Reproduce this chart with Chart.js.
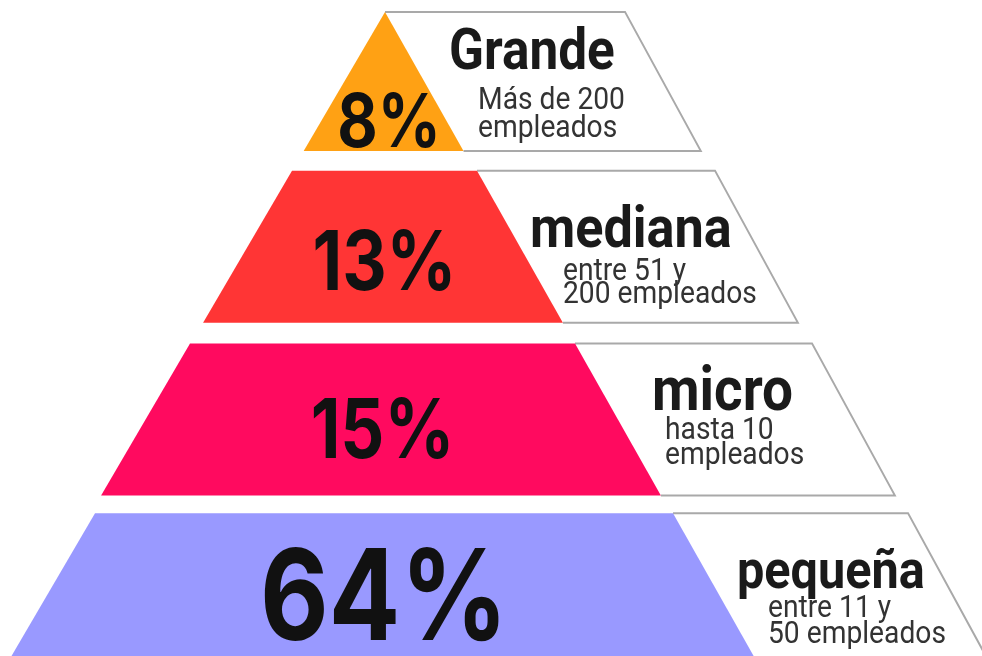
<!DOCTYPE html>
<html>
<head>
<meta charset="utf-8">
<script src="https://cdn.jsdelivr.net/npm/chart.js@4.4.1/dist/chart.umd.min.js"></script>
<style>
  html, body { margin: 0; padding: 0; background: #fff; overflow: hidden; }
  body { width: 982px; height: 656px; position: relative; }
  #pyramid { position: absolute; left: 0; top: -5px; }
</style>
</head>
<body>
<canvas id="pyramid" width="982" height="679"></canvas>
<script>
// data
const categories = ['Grande', 'mediana', 'micro', 'pequeña'];
const shares = [8, 13, 15, 64];
const descriptions = [
    ['Más de 200', 'empleados'],
    ['entre 51 y', '200 empleados'],
    ['hasta 10', 'empleados'],
    ['entre 11 y', '50 empleados']
];

// styles
const tierColors = ['#FFA114', '#FF3535', '#FF0A5F', '#9999FF'];
const borderGrey = '#a9a9a9';

// layout of the pyramid (x of the edges along each tier's top line)
const edgeLeft = [385, 292, 190, 95];
const edgeSplit = [385, 477, 575, 673];
const edgeRight = [625, 715, 812, 908];
const slantLeft = 0.585, slantSplit = 0.565, slantRight = 0.545;
const topAdjust = [8, -3, 0, 0];
const bottomAdjust = [-5, -3, 0, 0];
const pctSize = [74, 82, 82, 126];
const pctBaseline = [147, 290, 458, 640];
const titleSize = [57, 58, 61, 54];
const titleX = [449, 530, 652, 737];
const titleY = [69, 247, 410, 588];
const subX = [478, 563, 665, 768];
const subY = [109, 280, 439, 617];
const subLine = [28, 23, 25, 26];

const ctxEl = document.getElementById('pyramid');

function tierShape(el, i) {
    const top = el.y - el.height / 2 + topAdjust[i];
    const bottom = el.y + el.height / 2 + bottomAdjust[i];
    return { top, bottom, h: bottom - top };
}

function squeezedText(ctx, text, x, y, font, color, sx, align) {
    ctx.save();
    ctx.translate(x, y);
    ctx.scale(sx, 1);
    ctx.font = font;
    ctx.fillStyle = color;
    ctx.textAlign = align;
    ctx.textBaseline = 'alphabetic';
    ctx.fillText(text, 0, 0);
    ctx.restore();
}

const pyramidPlugin = {
    id: 'pyramid',
    beforeDatasetsDraw(chart) {
        const ctx = chart.ctx;
        const colored = chart.getDatasetMeta(0).data;
        const xs = chart.scales.x;
        ctx.save();
        colored.forEach((el, i) => {
            const s = tierShape(el, i);
            const l = xs.getPixelForValue(chart.data.datasets[0].data[i][0]);
            const m = xs.getPixelForValue(chart.data.datasets[0].data[i][1]);
            const r = xs.getPixelForValue(chart.data.datasets[1].data[i][1]);
            // white info panel
            ctx.beginPath();
            ctx.moveTo(m, s.top);
            ctx.lineTo(r, s.top);
            ctx.lineTo(r + slantRight * s.h, s.bottom);
            ctx.lineTo(m + slantSplit * s.h, s.bottom);
            ctx.closePath();
            ctx.fillStyle = '#fff';
            ctx.fill();
            ctx.beginPath();
            ctx.moveTo(m, s.top);
            ctx.lineTo(r, s.top);
            ctx.lineTo(r + slantRight * s.h, s.bottom);
            ctx.lineTo(m + slantSplit * s.h, s.bottom);
            ctx.strokeStyle = borderGrey;
            ctx.lineWidth = 2;
            ctx.stroke();
            // coloured share
            ctx.beginPath();
            ctx.moveTo(l, s.top);
            ctx.lineTo(m, s.top);
            ctx.lineTo(m + slantSplit * s.h, s.bottom);
            ctx.lineTo(l - slantLeft * s.h, s.bottom);
            ctx.closePath();
            ctx.fillStyle = tierColors[i];
            ctx.fill();
        });
        ctx.restore();
        return false;
    },
    afterDraw(chart) {
        const ctx = chart.ctx;
        const xs = chart.scales.x;
        const off = 5; // canvas is shifted up by 5px
        chart.getDatasetMeta(0).data.forEach((el, i) => {
            const l = xs.getPixelForValue(chart.data.datasets[0].data[i][0]);
            const m = xs.getPixelForValue(chart.data.datasets[0].data[i][1]);
            const cx = (l + m) / 2 + (i === 0 ? 4 : 0);
            squeezedText(ctx, shares[i] + '%', cx, pctBaseline[i] + off,
                `700 ${pctSize[i]}px Inter`, '#111', 0.84, 'center');
            squeezedText(ctx, categories[i], titleX[i], titleY[i] + off,
                `700 ${titleSize[i]}px Roboto`, '#1a1a1a', 0.9, 'left');
            descriptions[i].forEach((line, j) => {
                squeezedText(ctx, line, subX[i], subY[i] + j * subLine[i] + off,
                    '400 31px Roboto', '#333', 0.91, 'left');
            });
        });
    }
};

new Chart(ctxEl, {
    type: 'bar',
    data: {
        labels: categories,
        datasets: [
            {
                label: 'share',
                data: categories.map((c, i) => [edgeLeft[i], edgeSplit[i]]),
                backgroundColor: tierColors,
                grouped: false,
                barThickness: 152
            },
            {
                label: 'info',
                data: categories.map((c, i) => [edgeSplit[i], edgeRight[i]]),
                backgroundColor: '#fff',
                grouped: false,
                barThickness: 152
            }
        ]
    },
    options: {
        indexAxis: 'y',
        responsive: false,
        animation: false,
        devicePixelRatio: 1,
        layout: { padding: 0 },
        plugins: { legend: { display: false }, tooltip: { enabled: false } },
        scales: {
            x: { type: 'linear', min: 0, max: 982, display: false },
            y: { display: false }
        }
    },
    plugins: [pyramidPlugin]
});
</script>
</body>
</html>
